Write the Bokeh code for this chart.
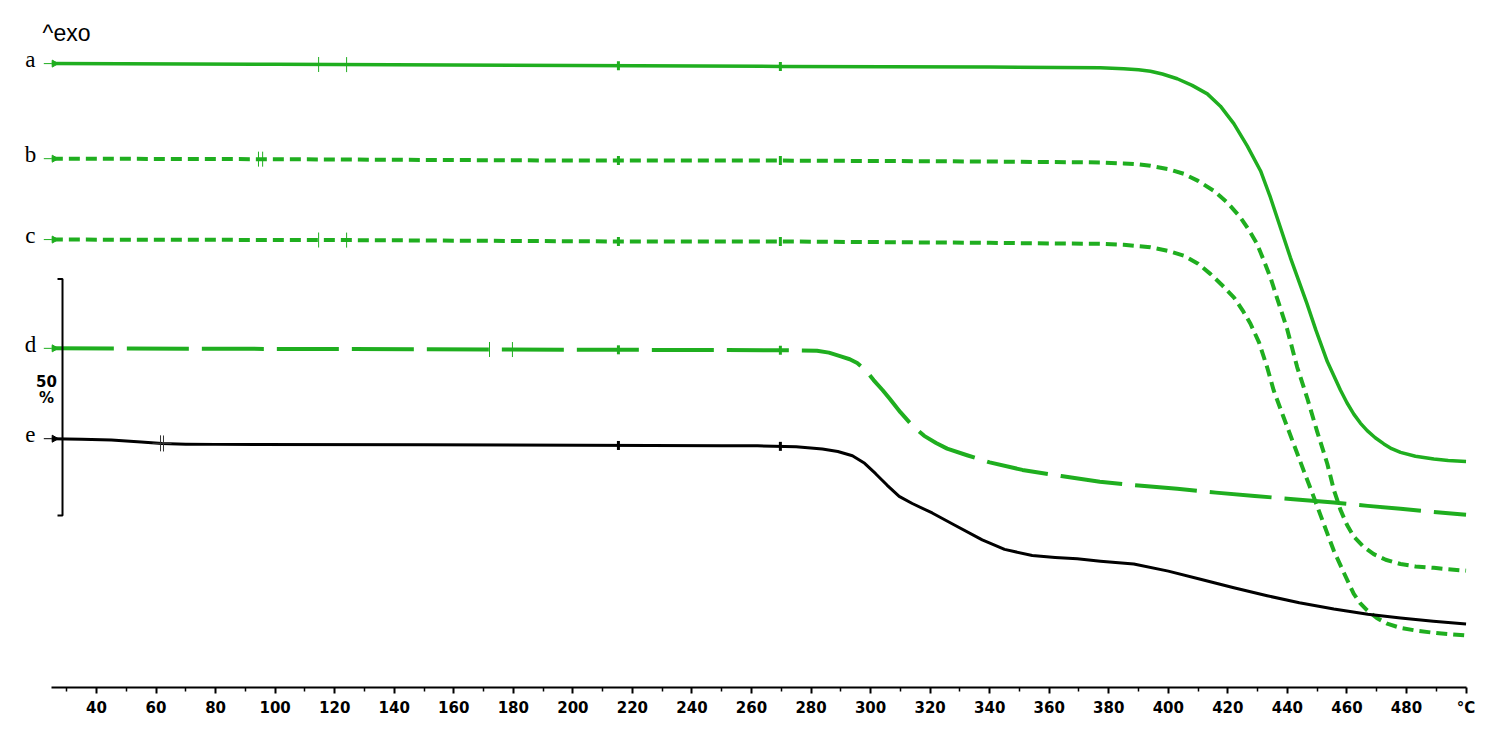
import numpy as np
from bokeh.plotting import figure
from bokeh.models import Range1d, FixedTicker
from bokeh.core.properties import value
from bokeh.embed import file_html
from bokeh.resources import INLINE

# ---------------- data (temperature in °C, mass in %) ----------------
labels = ["a", "b", "c", "d", "e"]

T_a = [25, 100, 200, 270, 340, 377.2, 385, 390, 394, 398, 403, 408, 413.1, 417.5, 422, 426.5,
       431, 434.3, 441, 446.6, 449.6, 453.4, 455.6, 457.8, 460, 462.3, 464.5, 466.8, 469.5,
       472.4, 475, 478, 483, 489.2, 494, 500]
m_a = [100, 99.85, 99.6, 99.4, 99.3, 99.1, 98.9, 98.7, 98.4, 97.8, 96.8, 95.4, 93.6, 91.0, 87.3, 82.6,
       77.3, 71.7, 59.0, 49.2, 43.6, 37.0, 34.0, 31.0, 28.3, 25.9, 24.0, 22.4, 20.9,
       19.6, 18.6, 17.8, 17.0, 16.4, 16.1, 15.9]

T_b = [25, 95, 200, 270, 340, 377.2, 385, 390, 394, 400, 405.2, 410, 415.3, 420, 424.2, 427,
       429.8, 432, 434.3, 437, 439.9, 443.3, 446.6, 450, 453.4, 455.6, 457.8, 460, 462.3,
       465.5, 469, 473, 478, 483, 489.2, 494, 500]
m_b = [100, 99.9, 99.6, 99.6, 99.4, 99.2, 99.0, 98.8, 98.5, 97.8, 96.8, 95.3, 93.2, 90.6, 87.6, 85.0,
       82.0, 78.6, 74.9, 69.6, 64.0, 55.9, 49.5, 42.3, 35.5, 30.0, 25.8, 22.6, 20.1,
       18.0, 16.4, 15.2, 14.3, 13.8, 13.5, 13.2, 12.9]

T_c = [25, 120, 216, 270, 340, 377.2, 385, 390, 394, 400, 405.2, 410, 414.2, 418, 422, 425,
       427.6, 430.5, 433.2, 435.4, 438.5, 442.1, 445.5, 448.9, 452.2, 455.6, 459, 462.3,
       464.5, 466.8, 470, 473.5, 478, 483.6, 490, 500]
m_c = [100, 99.9, 99.6, 99.6, 99.3, 99.1, 98.9, 98.6, 98.4, 97.6, 96.6, 94.9, 92.7, 90.4, 87.8, 85.0,
       82.2, 78.2, 73.0, 68.1, 62.8, 56.8, 51.1, 45.5, 39.9, 34.2, 29.5, 25.1,
       23.1, 21.6, 20.0, 18.8, 17.9, 17.3, 16.8, 16.3]

T_d = [25, 150, 270, 282, 286, 290, 293, 295.5, 298.5, 301, 304, 306.5, 310, 314, 318, 322,
       325.7, 332.4, 340, 351, 364, 377, 390, 403, 416, 429, 442, 455.6, 467, 478, 489, 500]
m_d = [100, 99.8, 99.6, 99.5, 99.1, 98.3, 97.7, 96.9, 95.3, 93.3, 91.2, 89.3, 86.5, 83.7, 81.5, 80.0,
       78.8, 77.4, 75.9, 74.3, 73.0, 71.8, 71.0, 70.3, 69.5, 68.8, 68.1, 67.4, 66.7, 66.1, 65.4, 64.8]

T_e = [25, 35, 45, 55, 62, 70, 80, 150, 250, 262, 275, 283.8, 289, 293.9, 298, 301.7, 305.5,
       309.6, 314, 320.7, 328, 337.5, 345, 354.3, 362, 369.4, 377.2, 388.4, 400, 410.8, 422,
       433.2, 444, 455.6, 467, 478, 489, 500]
m_e = [100, 99.9, 99.7, 99.3, 99.0, 98.85, 98.8, 98.7, 98.5, 98.5, 98.3, 97.8, 97.3, 96.4, 94.8, 92.6, 90.2,
       87.8, 86.3, 84.3, 81.8, 78.6, 76.6, 75.3, 74.9, 74.6, 74.1, 73.5, 72.0, 70.3, 68.5,
       66.8, 65.3, 64.0, 62.9, 62.1, 61.4, 60.8]

# evaluation markers drawn by the instrument software (°C)
marks_a = [114.6, 124.0]
marks_b = [94.4, 95.8]
marks_c = [114.6, 124.0]
marks_d = [172.0, 179.7]
marks_e = [61.5, 62.5]
blips = [215.3, 269.7]

scale_pct = 50
x_ticks = list(range(40, 501, 20))
x_minor = list(range(30, 500, 20))

# ---------------- layout / style ----------------
GREEN = "#1fae1f"
offsets = [131.9, 111.8, 94.7, 71.7, 52.6]   # vertical position of the 100 % level
colors = [GREEN, GREEN, GREEN, GREEN, "black"]
dashes = ["solid", "11 6", "11 6", "62 13", "solid"]
widths = [3.5, 4, 4, 4, 3]

p = figure(width=1478, height=723,
           x_range=Range1d(14.47, 501.5), y_range=Range1d(0, 143.55),
           output_backend="svg", toolbar_location=None,
           y_axis_location=None,
           min_border_left=20, min_border_right=8, min_border_top=8, min_border_bottom=36)
p.background_fill_color = "white"
p.border_fill_color = "white"
p.outline_line_color = None
p.xgrid.visible = False
p.ygrid.visible = False

ax = p.xaxis[0]
ax.bounds = (25, 500)
ax.ticker = FixedTicker(ticks=x_ticks, minor_ticks=x_minor)
ax.major_label_overrides = {500: "°C"}
ax.axis_line_width = 2
ax.axis_line_color = "black"
ax.major_tick_in = 0
ax.major_tick_out = 6
ax.major_tick_line_width = 2
ax.minor_tick_in = 0
ax.minor_tick_out = 4
ax.minor_tick_line_width = 1.5
ax.major_label_standoff = 5
ax.major_label_text_font = "DejaVu Sans"
ax.major_label_text_font_style = "bold"
ax.major_label_text_font_size = "15px"
ax.major_label_text_color = "black"

Ts = [T_a, T_b, T_c, T_d, T_e]
ms = [m_a, m_b, m_c, m_d, m_e]
marks = [marks_a, marks_b, marks_c, marks_d, marks_e]

for T, m, off, col, dash, w, mk in zip(Ts, ms, offsets, colors, dashes, widths, marks):
    y = off - (100 - np.array(m, dtype=float))
    p.line(T, y, line_color=col, line_width=w, line_dash=dash, line_join="round", line_cap="butt")
    # lead-in stub and start marker
    p.line([22.3, 25], [y[0], y[0]], line_color=col, line_width=1)
    p.scatter([25.8], [y[0]], marker="triangle", angle=-np.pi / 2, size=7,
              fill_color=col, line_color=col)
    # software markers
    ym = np.interp(mk, T, y)
    if col == "black":
        p.scatter(mk, ym, marker="cross", size=16, line_color="#333333", line_width=1)
    else:
        p.scatter(mk, ym, marker="dash", angle=np.pi / 2, size=15, line_color=col, line_width=1)
    yb = np.interp(blips, T, y)
    p.scatter(blips, yb, marker="dash", angle=np.pi / 2, size=9, line_color=col, line_width=3)

# curve letters
p.text(x=[17.8] * 5, y=[o + 0.9 for o in offsets], text=labels,
       text_font=value("Liberation Serif"), text_font_size="23px",
       text_align="center", text_baseline="middle", text_color="black")

# ^exo
p.text(x=[21.9], y=[138.3], text=["^exo"], text_font=value("Liberation Sans"),
       text_font_size="23px", text_align="left", text_baseline="middle", text_color="black")

# 50 % scale bar
sb_x = 28.58
sb_bottom = 36.36
sb_top = sb_bottom + scale_pct
p.line([26.9, sb_x, sb_x, 26.9], [sb_top, sb_top, sb_bottom, sb_bottom],
       line_color="black", line_width=2)
p.text(x=[23.2, 23.2], y=[64.7, 61.3], text=[str(scale_pct), "%"],
       text_font=value("DejaVu Sans"), text_font_style="bold", text_font_size="15px",
       text_align="center", text_baseline="middle", text_color="black")

open("out.html", "w").write(file_html(p, INLINE))
